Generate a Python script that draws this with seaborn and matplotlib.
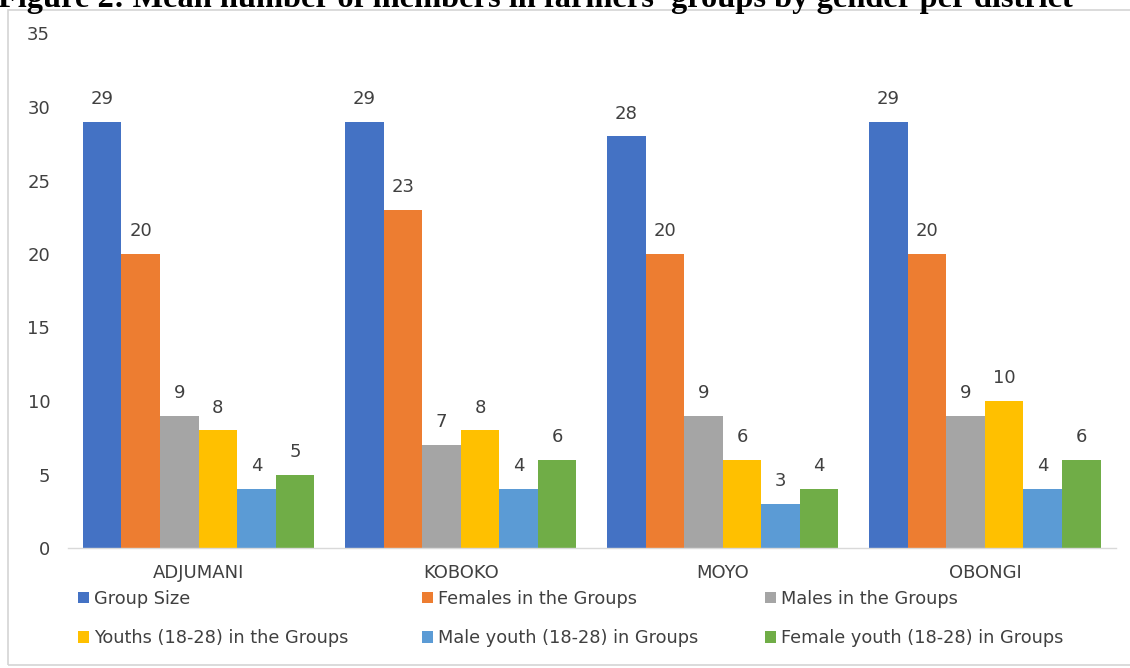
import matplotlib
matplotlib.use("Agg")
import matplotlib.pyplot as plt
import seaborn as sns
import pandas as pd
from matplotlib.patches import Rectangle

districts = ["ADJUMANI", "KOBOKO", "MOYO", "OBONGI"]
series = ["Group Size", "Females in the Groups", "Males in the Groups",
          "Youths (18-28) in the Groups", "Male youth (18-28) in Groups",
          "Female youth (18-28) in Groups"]
group_size = [29, 29, 28, 29]
females = [20, 23, 20, 20]
males = [9, 7, 9, 9]
youths = [8, 8, 6, 10]
male_youth = [4, 4, 3, 4]
female_youth = [5, 6, 4, 6]
yticks = [0, 5, 10, 15, 20, 25, 30, 35]
title = "Figure 2: Mean number of members in farmers' groups by gender per district"

colors = ["#4472C4", "#ED7D31", "#A5A5A5", "#FFC000", "#5B9BD5", "#70AD47"]

rows = []
for s, vals in zip(series, [group_size, females, males, youths, male_youth, female_youth]):
    for d, v in zip(districts, vals):
        rows.append({"District": d, "Series": s, "Value": v})
df = pd.DataFrame(rows)

sns.set_style("white")
plt.rcParams["font.family"] = ["DejaVu Sans"]

W, H = 1130, 668
fig = plt.figure(figsize=(W / 100, H / 100), dpi=100)
fig.patch.set_facecolor("white")

# outer chart border
fig.patches.append(Rectangle((8 / W, 3 / H), (W + 10 - 8) / W, (658 - 3) / H,
                             transform=fig.transFigure, fill=False,
                             edgecolor="#d4d4d4", lw=1.2, zorder=0))

ax = fig.add_axes([67.5 / W, 1 - 548 / H, (1116 - 67.5) / W, (548 - 33.5) / H])
sns.barplot(data=df, x="District", y="Value", hue="Series", order=districts,
            hue_order=series, palette=colors, width=0.882, errorbar=None,
            saturation=1, linewidth=0, edgecolor="none", ax=ax, legend=True)

handles = ax.get_legend().legend_handles
ax.get_legend().remove()

txt_color = "#404040"
for c in ax.containers:
    ax.bar_label(c, fmt="%d", padding=10, fontsize=13, color=txt_color)

ax.set_ylim(0, 35)
ax.set_yticks(yticks)
ax.set_xlim(-0.5, 3.5)
ax.set_xlabel("")
ax.set_ylabel("")
ax.tick_params(axis="both", length=0, labelsize=13, labelcolor=txt_color)
ax.tick_params(axis="y", pad=12.5)
ax.tick_params(axis="x", pad=11.5)
for side in ["top", "right", "left"]:
    ax.spines[side].set_visible(False)
ax.spines["bottom"].set_color("#d9d9d9")
ax.spines["bottom"].set_linewidth(1.0)
ax.grid(False)

# legend: three columns, each a separate legend placed at the reference x positions
col_x = [78, 422, 765]
for ci, x0 in enumerate(col_x):
    idx = [ci, ci + 3]
    leg = fig.legend([handles[i] for i in idx], [series[i] for i in idx],
                     ncol=1, loc="upper left",
                     bbox_to_anchor=(x0 / W, 1 - 590 / H),
                     bbox_transform=fig.transFigure, frameon=False,
                     fontsize=12.8, labelcolor=txt_color, borderpad=0, borderaxespad=0,
                     handlelength=0.6, handleheight=0.6, handletextpad=0.3,
                     labelspacing=1.2)
    for h in leg.legend_handles:
        h.set_linewidth(0)

# title, partially cut off at the top like in the reference
t = fig.text(-2 / W, 1 - 7 / H, title, fontsize=20, fontweight="bold",
             family="Liberation Serif", ha="left", va="baseline", color="black")
fig.canvas.draw()
bb = t.get_window_extent(fig.canvas.get_renderer())
t.set_fontsize(20 * 1072 / bb.width)

fig.savefig("out.png", dpi=100, facecolor="white")
